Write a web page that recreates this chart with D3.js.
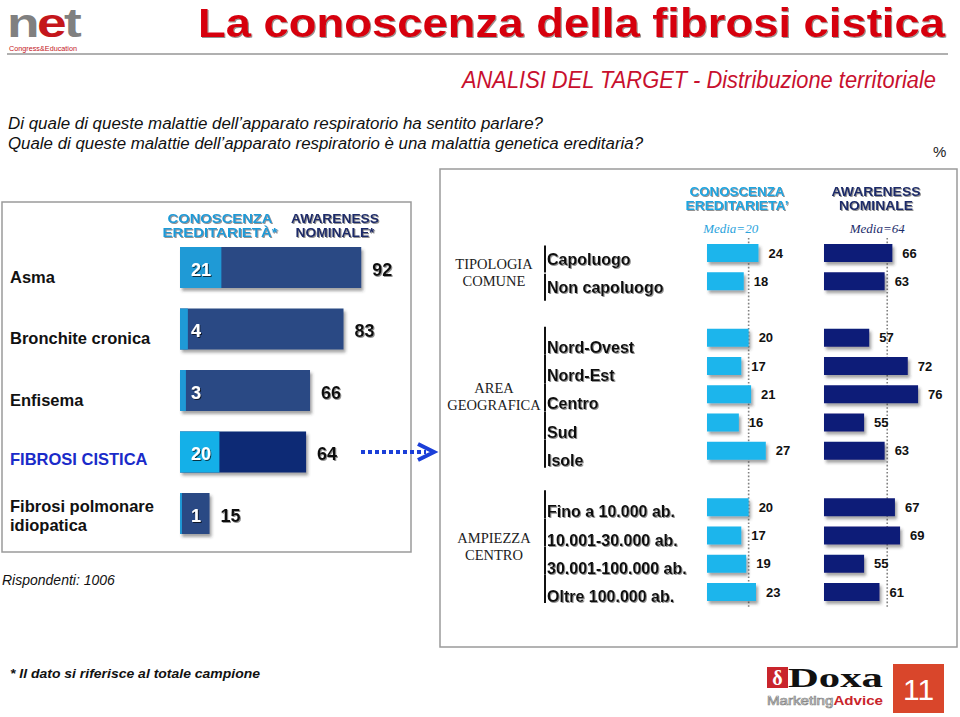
<!DOCTYPE html>
<html><head><meta charset="utf-8">
<script src="https://cdn.jsdelivr.net/npm/d3@7"></script>
<style>html,body{margin:0;padding:0;background:#fff}svg{display:block}</style>
</head><body>
<script>
// ---------- DATA ----------
const diseases = ["Asma", "Bronchite cronica", "Enfisema", "FIBROSI CISTICA", "Fibrosi polmonare idiopatica"];
const conoscenzaTot = [21, 4, 3, 20, 1];
const awarenessTot = [92, 83, 66, 64, 15];

const segGroups = ["TIPOLOGIA COMUNE", "AREA GEOGRAFICA", "AMPIEZZA CENTRO"];
const segLabels = ["Capoluogo", "Non capoluogo",
  "Nord-Ovest", "Nord-Est", "Centro", "Sud", "Isole",
  "Fino a 10.000 ab.", "10.001-30.000 ab.", "30.001-100.000 ab.", "Oltre 100.000 ab."];
const segGroupOf = [0, 0, 1, 1, 1, 1, 1, 2, 2, 2, 2];
const conoscenzaSeg = [24, 18, 20, 17, 21, 16, 27, 20, 17, 19, 23];
const awarenessSeg = [66, 63, 57, 72, 76, 55, 63, 67, 69, 55, 61];
const mediaConoscenza = 20;
const mediaAwareness = 64;

// ---------- SETUP ----------
const W = 960, H = 717;
const svg = d3.select("body").append("svg").attr("width", W).attr("height", H);
svg.append("rect").attr("width", W).attr("height", H).attr("fill", "#fff");
const defs = svg.append("defs");
const fs = defs.append("filter").attr("id", "barShadow").attr("x", "-10%").attr("y", "-20%").attr("width", "130%").attr("height", "160%");
fs.append("feDropShadow").attr("dx", 2).attr("dy", 3).attr("stdDeviation", 1.6).attr("flood-color", "#333").attr("flood-opacity", 0.45);
const ft = defs.append("filter").attr("id", "txtShadow").attr("x", "-10%").attr("y", "-30%").attr("width", "130%").attr("height", "170%");
ft.append("feDropShadow").attr("dx", 1).attr("dy", 1).attr("stdDeviation", 0.6).attr("flood-color", "#777").attr("flood-opacity", 0.8);
const fw = defs.append("filter").attr("id", "whiteShadow").attr("x", "-10%").attr("y", "-30%").attr("width", "130%").attr("height", "170%");
fw.append("feDropShadow").attr("dx", 1).attr("dy", 1).attr("stdDeviation", 0.6).attr("flood-color", "#000").attr("flood-opacity", 0.7);

const SANS = "'Liberation Sans', Arial, sans-serif";
const SERIF = "'Liberation Serif', 'Times New Roman', serif";

// ---------- HEADER ----------
const logo = svg.append("text").attr("x", 7).attr("y", 37).attr("font-family", SANS).attr("font-weight", "bold")
  .attr("font-size", 40).attr("letter-spacing", -2)
  .attr("textLength", 72).attr("lengthAdjust", "spacingAndGlyphs");
logo.append("tspan").attr("fill", "#808080").text("n");
logo.append("tspan").attr("fill", "#c4161c").text("e");
logo.append("tspan").attr("fill", "#808080").text("t");
svg.append("text").attr("x", 9).attr("y", 51).attr("font-family", SANS).attr("font-size", 7)
  .attr("fill", "#c4161c").attr("textLength", 68).attr("lengthAdjust", "spacingAndGlyphs").text("Congress&Education");

svg.append("text").attr("x", 198).attr("y", 37).attr("font-family", SANS).attr("font-weight", "bold")
  .attr("font-size", 40).attr("fill", "#d6000f").attr("textLength", 747).attr("lengthAdjust", "spacingAndGlyphs")
  .style("filter", "url(#txtShadow)")
  .text("La conoscenza della fibrosi cistica");
svg.append("line").attr("x1", 7).attr("x2", 948).attr("y1", 54).attr("y2", 54).attr("stroke", "#b0b0b0").attr("stroke-width", 2);

svg.append("text").attr("x", 462).attr("y", 88).attr("font-family", SANS).attr("font-style", "italic")
  .attr("font-size", 23).attr("fill", "#c8102e").attr("textLength", 474).attr("lengthAdjust", "spacingAndGlyphs")
  .text("ANALISI DEL TARGET - Distribuzione territoriale");

svg.append("text").attr("x", 8).attr("y", 129).attr("font-family", SANS).attr("font-style", "italic")
  .attr("font-size", 16).attr("fill", "#111").attr("textLength", 535).attr("lengthAdjust", "spacingAndGlyphs")
  .text("Di quale di queste malattie dell\u2019apparato respiratorio ha sentito parlare?");
svg.append("text").attr("x", 8).attr("y", 149).attr("font-family", SANS).attr("font-style", "italic")
  .attr("font-size", 16).attr("fill", "#111").attr("textLength", 635).attr("lengthAdjust", "spacingAndGlyphs")
  .text("Quale di queste malattie dell\u2019apparato respiratorio è una malattia genetica ereditaria?");
svg.append("text").attr("x", 933).attr("y", 157).attr("font-family", SANS).attr("font-size", 15).attr("fill", "#222").text("%");

// ---------- LEFT PANEL ----------
svg.append("rect").attr("x", 2).attr("y", 202).attr("width", 409).attr("height", 350)
  .attr("fill", "none").attr("stroke", "#9a9a9a").attr("stroke-width", 1.5);

const xL = d3.scaleLinear().domain([0, 100]).range([180, 377]);
const yL = d3.scalePoint().domain(diseases).range([267.5, 513.5]);
const barHL = 41;

function hdr(g, x, y, lines, color, widths) {
  lines.forEach((t, i) => {
    g.append("text").attr("x", x).attr("y", y + i * 14).attr("text-anchor", "middle")
      .attr("font-family", SANS).attr("font-weight", "bold").attr("font-size", 12.5).attr("fill", color)
      .attr("textLength", widths[i]).attr("lengthAdjust", "spacingAndGlyphs")
      .style("filter", "url(#txtShadow)").text(t);
  });
}
hdr(svg, 220, 223, ["CONOSCENZA", "EREDITARIETÀ*"], "#1f9bd7", [105, 115]);
hdr(svg, 335, 223, ["AWARENESS", "NOMINALE*"], "#1c2c6a", [88, 79]);

const lRows = svg.append("g").selectAll("g").data(diseases).join("g");
lRows.append("rect")
  .attr("x", xL(0)).attr("y", d => yL(d) - barHL / 2)
  .attr("width", (d, i) => xL(awarenessTot[i]) - xL(0)).attr("height", barHL)
  .attr("fill", (d, i) => i === 3 ? "#0b2c74" : "#294a84")
  .style("filter", "url(#barShadow)");
lRows.append("rect")
  .attr("x", xL(0)).attr("y", d => yL(d) - barHL / 2)
  .attr("width", (d, i) => xL(conoscenzaTot[i]) - xL(0)).attr("height", barHL)
  .attr("fill", (d, i) => i === 3 ? "#14b0e8" : "#1f9ad6");
lRows.append("text")
  .attr("x", 191).attr("y", d => yL(d) + 2).attr("dominant-baseline", "central")
  .attr("font-family", SANS).attr("font-weight", "bold").attr("font-size", 18).attr("fill", "#fff")
  .style("filter", "url(#whiteShadow)")
  .text((d, i) => conoscenzaTot[i]);
lRows.append("text")
  .attr("x", (d, i) => xL(awarenessTot[i]) + 11).attr("y", d => yL(d) + 2).attr("dominant-baseline", "central")
  .attr("font-family", SANS).attr("font-weight", "bold").attr("font-size", 18).attr("fill", "#111")
  .style("filter", "url(#txtShadow)")
  .text((d, i) => awarenessTot[i]);
lRows.each(function(d, i) {
  const g = d3.select(this);
  const words = d === "Fibrosi polmonare idiopatica" ? ["Fibrosi polmonare", "idiopatica"] : [d];
  const y0 = words.length > 1 ? yL(d) - 1.5 : yL(d) + (i === 3 ? 12.5 : 15);
  words.forEach((w, k) => {
    g.append("text").attr("x", 10).attr("y", y0 + k * 19)
      .attr("font-family", SANS).attr("font-weight", "bold").attr("font-size", 16.5)
      .attr("fill", i === 3 ? "#1a2bc9" : "#111").text(w);
  });
});

svg.append("text").attr("x", 2).attr("y", 585).attr("font-family", SANS).attr("font-style", "italic")
  .attr("font-size", 14).attr("fill", "#111").text("Rispondenti: 1006");

// arrow
svg.append("line").attr("x1", 361).attr("x2", 426).attr("y1", 452).attr("y2", 452)
  .attr("stroke", "#1b3fd8").attr("stroke-width", 4).attr("stroke-dasharray", "4,3");
svg.append("path").attr("d", "M418,444 L434,452 L418,460").attr("fill", "none")
  .attr("stroke", "#1b3fd8").attr("stroke-width", 4).attr("stroke-linejoin", "miter");

// ---------- RIGHT PANEL ----------
svg.append("rect").attr("x", 440).attr("y", 169).attr("width", 517).attr("height", 478)
  .attr("fill", "none").attr("stroke", "#9a9a9a").attr("stroke-width", 1.5);

hdr(svg, 737, 196, ["CONOSCENZA", "EREDITARIETA\u2019"], "#1fa6e0", [95, 103]);
hdr(svg, 876, 196, ["AWARENESS", "NOMINALE"], "#1c2c6a", [89, 74]);

const xC = d3.scaleLinear().domain([3, 30]).range([707, 707 + 27 * 2.45]);
const xA = d3.scaleLinear().domain([39.4, 80]).range([824, 824 + 40.6 * 2.57]);

const slots = [];
segLabels.forEach((s, i) => {
  if (i > 0 && segGroupOf[i] !== segGroupOf[i - 1]) slots.push("__gap" + i);
  slots.push(s);
});
const yR = d3.scalePoint().domain(slots).range([253, 592]);
const barHR = 18;

svg.append("text").attr("x", xC(mediaConoscenza) - 18).attr("y", 233).attr("text-anchor", "middle")
  .attr("font-family", SERIF).attr("font-style", "italic").attr("font-size", 13).attr("fill", "#2aa3dc")
  .text("Media=" + mediaConoscenza);
svg.append("text").attr("x", xA(mediaAwareness) - 10).attr("y", 233).attr("text-anchor", "middle")
  .attr("font-family", SERIF).attr("font-style", "italic").attr("font-size", 13).attr("fill", "#1c2c6a")
  .text("Media=" + mediaAwareness);

[xC(mediaConoscenza), xA(mediaAwareness)].forEach(x => {
  svg.append("line").attr("x1", x).attr("x2", x).attr("y1", 238).attr("y2", 607)
    .attr("stroke", "#808080").attr("stroke-width", 1.6).attr("stroke-dasharray", "1.6,2");
});

const rRows = svg.append("g").selectAll("g").data(segLabels).join("g");
rRows.append("rect")
  .attr("x", xC.range()[0]).attr("y", d => yR(d) - barHR / 2)
  .attr("width", (d, i) => xC(conoscenzaSeg[i]) - xC.range()[0]).attr("height", barHR)
  .attr("fill", "#1cb5ec").style("filter", "url(#barShadow)");
rRows.append("rect")
  .attr("x", xA.range()[0]).attr("y", d => yR(d) - barHR / 2)
  .attr("width", (d, i) => xA(awarenessSeg[i]) - xA.range()[0]).attr("height", barHR)
  .attr("fill", "#0f1d78").style("filter", "url(#barShadow)");
rRows.append("text")
  .attr("x", (d, i) => xC(conoscenzaSeg[i]) + 10).attr("y", d => yR(d)).attr("dominant-baseline", "central")
  .attr("font-family", SANS).attr("font-weight", "bold").attr("font-size", 13).attr("fill", "#111")
  .text((d, i) => conoscenzaSeg[i]);
rRows.append("text")
  .attr("x", (d, i) => xA(awarenessSeg[i]) + 10).attr("y", d => yR(d)).attr("dominant-baseline", "central")
  .attr("font-family", SANS).attr("font-weight", "bold").attr("font-size", 13).attr("fill", "#111")
  .text((d, i) => awarenessSeg[i]);

const labelOff = [11.5, 15, 10];
const sepTop = [-19, -26, -27];
const sepBot = [8, 2, 1];
rRows.append("text")
  .attr("x", 547).attr("y", (d, i) => yR(d) + labelOff[segGroupOf[i]])
  .attr("font-family", SANS).attr("font-weight", "bold").attr("font-size", 16).attr("fill", "#111")
  .style("filter", "url(#txtShadow)")
  .text(d => d);
rRows.append("line")
  .attr("x1", 545).attr("x2", 545)
  .attr("y1", (d, i) => yR(d) + labelOff[segGroupOf[i]] + sepTop[segGroupOf[i]])
  .attr("y2", (d, i) => yR(d) + labelOff[segGroupOf[i]] + sepBot[segGroupOf[i]])
  .attr("stroke", "#111").attr("stroke-width", 2);

const groupY = [269, 393, 543];
segGroups.forEach((g, k) => {
  g.split(" ").forEach((w, j) => {
    svg.append("text").attr("x", 494).attr("y", groupY[k] + j * 17).attr("text-anchor", "middle")
      .attr("font-family", SERIF).attr("font-size", 14.5).attr("fill", "#222").text(w);
  });
});

// ---------- FOOTER ----------
svg.append("text").attr("x", 10).attr("y", 678).attr("font-family", SANS).attr("font-style", "italic")
  .attr("font-weight", "bold").attr("font-size", 13.5).attr("fill", "#111")
  .attr("textLength", 250).attr("lengthAdjust", "spacingAndGlyphs")
  .text("* Il dato si riferisce al totale campione");

// Doxa logo
svg.append("rect").attr("x", 767).attr("y", 667).attr("width", 21).attr("height", 21).attr("fill", "#c9252c");
svg.append("text").attr("x", 777.5).attr("y", 685).attr("text-anchor", "middle").attr("font-family", SERIF)
  .attr("font-weight", "bold").attr("font-size", 20).attr("fill", "#fff").text("δ");
svg.append("text").attr("x", 788).attr("y", 687).attr("font-family", SERIF).attr("font-weight", "bold")
  .attr("font-size", 27).attr("fill", "#111").attr("textLength", 95).attr("lengthAdjust", "spacingAndGlyphs").text("Doxa");
const ma = svg.append("text").attr("x", 767).attr("y", 705).attr("font-family", SANS).attr("font-size", 12)
  .attr("textLength", 116).attr("lengthAdjust", "spacingAndGlyphs");
ma.append("tspan").attr("fill", "#fff").attr("stroke", "#888").attr("stroke-width", 0.7).text("Marketing");
ma.append("tspan").attr("fill", "#c9252c").attr("font-weight", "bold").text("Advice");

svg.append("rect").attr("x", 893).attr("y", 664).attr("width", 51).attr("height", 49).attr("fill", "#d9462b");
svg.append("text").attr("x", 918.5).attr("y", 700).attr("text-anchor", "middle").attr("font-family", SANS)
  .attr("font-size", 30).attr("fill", "#fff").text("11");
</script>
</body></html>
